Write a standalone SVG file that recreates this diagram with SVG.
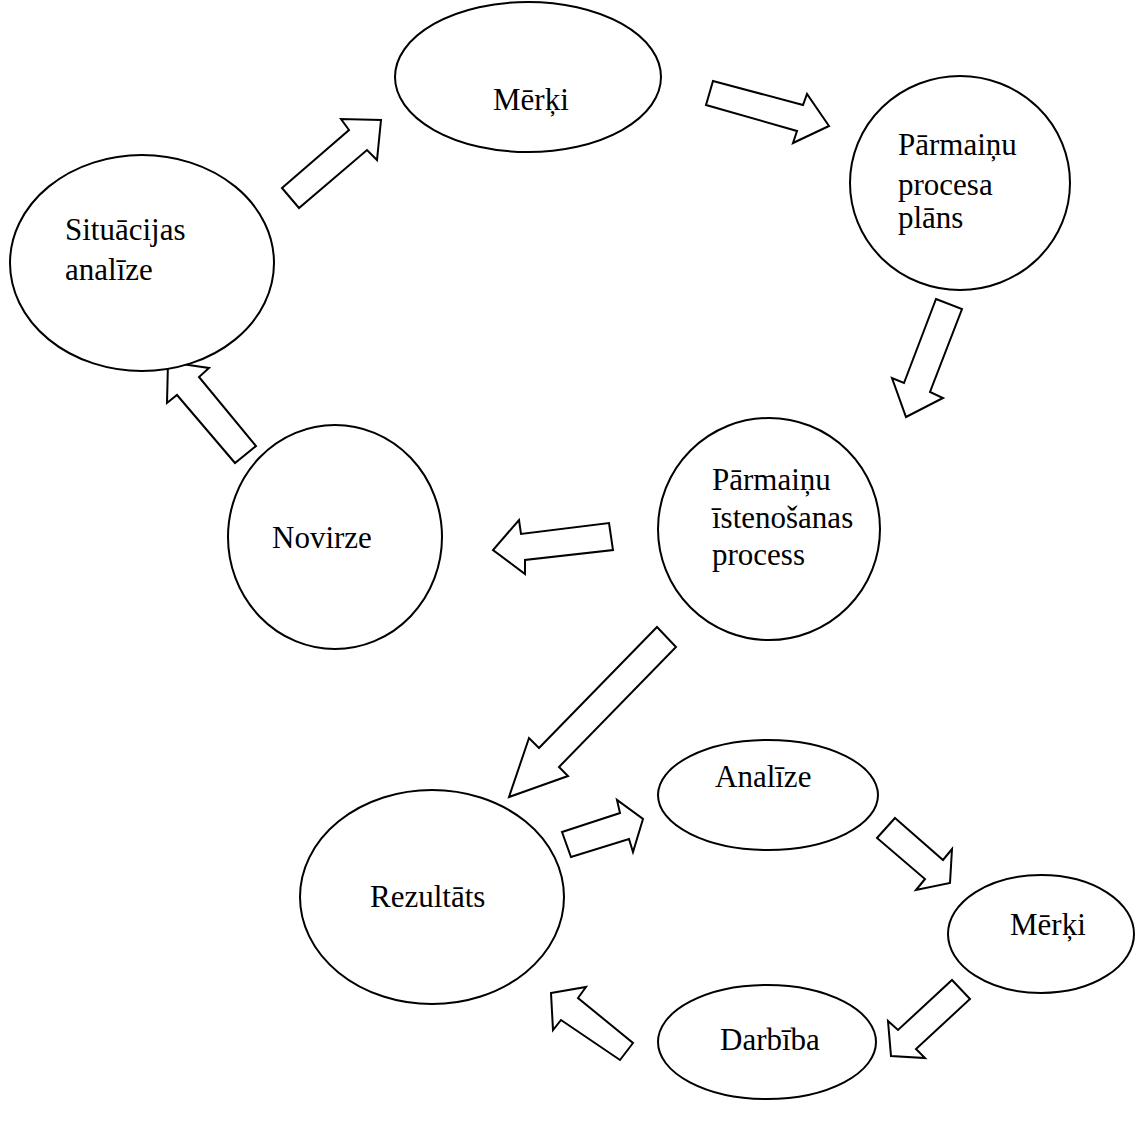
<svg xmlns="http://www.w3.org/2000/svg" width="1136" height="1137" viewBox="0 0 1136 1137">
  <style>
    .node ellipse { fill: #ffffff; stroke: #000000; stroke-width: 2; }
    .node text { font-family: "Liberation Serif", "Times New Roman", serif; font-size: 31px; fill: #000000; }
    .arrow { fill: #ffffff; stroke: #000000; stroke-width: 2; stroke-linejoin: miter; }
  </style>
  <rect width="1136" height="1137" fill="#ffffff"/>

  <g id="connectors">
    <polygon class="arrow" points="282,188 349,130 341,119 381,120 377,160 367,150 299,208"/>
    <polygon class="arrow" points="713,81 803,105 807,94 829,126 793,143 797,131 706,105"/>
    <polygon class="arrow" points="936,299 962,309 930,392 943,398 906,417 892,378 904,383"/>
    <polygon class="arrow" points="609,523 613,550 525,560 525,574 493,550 519,520 521,534"/>
    <polygon class="arrow" points="168,362 209,368 199,377 256,446 235,463 177,395 167,403"/>
    <polygon class="arrow" points="657,627 676,647 559,767 568,776 509,797 529,738 539,748"/>
    <polygon class="arrow" points="562,832 620,813 617,800 643,819 633,852 629,839 571,857"/>
    <polygon class="arrow" points="895,818 943,860 952,849 950,883 916,890 925,879 877,838"/>
    <polygon class="arrow" points="952,980 970,999 916,1049 925,1058 891,1056 888,1021 898,1030"/>
    <polygon class="arrow" points="551,993 586,987 578,998 633,1043 620,1060 561,1020 553,1030"/>
  </g>

  <g id="node-merki-top" class="node">
    <ellipse cx="528" cy="77" rx="133" ry="75"/>
    <text x="493" y="110">Mērķi</text>
  </g>
  <g id="node-situacijas" class="node">
    <ellipse cx="142" cy="263" rx="132" ry="108"/>
    <text x="65" y="240">Situācijas</text>
    <text x="65" y="280">analīze</text>
  </g>
  <g id="node-plans" class="node">
    <ellipse cx="960" cy="183" rx="110" ry="107"/>
    <text x="898" y="155">Pārmaiņu</text>
    <text x="898" y="195">procesa</text>
    <text x="898" y="228">plāns</text>
  </g>
  <g id="node-istenosana" class="node">
    <ellipse cx="769" cy="529" rx="111" ry="111"/>
    <text x="712" y="490">Pārmaiņu</text>
    <text x="712" y="528">īstenošanas</text>
    <text x="712" y="565">process</text>
  </g>
  <g id="node-novirze" class="node">
    <ellipse cx="335" cy="537" rx="107" ry="112"/>
    <text x="272" y="548">Novirze</text>
  </g>
  <g id="node-rezultats" class="node">
    <ellipse cx="432" cy="897" rx="132" ry="107"/>
    <text x="370" y="907">Rezultāts</text>
  </g>
  <g id="node-analize" class="node">
    <ellipse cx="768" cy="795" rx="110" ry="55"/>
    <text x="715" y="787">Analīze</text>
  </g>
  <g id="node-merki-right" class="node">
    <ellipse cx="1041" cy="934" rx="93" ry="59"/>
    <text x="1010" y="935">Mērķi</text>
  </g>
  <g id="node-darbiba" class="node">
    <ellipse cx="767" cy="1042" rx="109" ry="57"/>
    <text x="720" y="1050">Darbība</text>
  </g>
</svg>
